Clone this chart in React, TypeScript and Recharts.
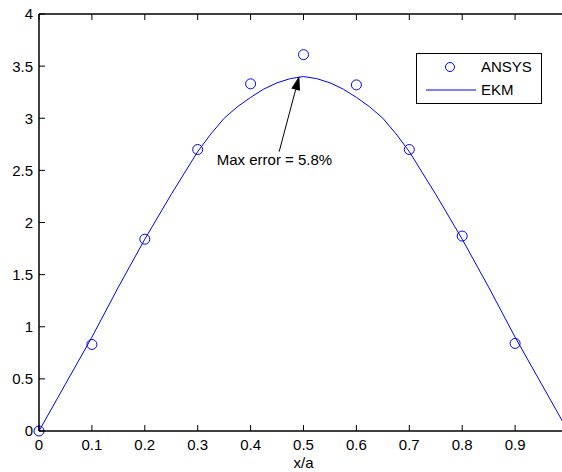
import React from 'react';
import {
  ComposedChart,
  Line,
  Scatter,
  XAxis,
  YAxis,
  ReferenceLine,
  ReferenceDot,
  Legend,
} from 'recharts';

const FONT = '"Liberation Sans", Arial, Helvetica, sans-serif';
const BLUE = '#0000ff';
const FS = 15;

// Tick values
const xTicks = [0, 0.1, 0.2, 0.3, 0.4, 0.5, 0.6, 0.7, 0.8, 0.9];
const yTicks = [0, 0.5, 1, 1.5, 2, 2.5, 3, 3.5, 4];

// ANSYS (circles)
const ansysX = [0, 0.1, 0.2, 0.3, 0.4, 0.5, 0.6, 0.7, 0.8, 0.9];
const ansysY = [0, 0.83, 1.84, 2.7, 3.33, 3.61, 3.32, 2.7, 1.87, 0.84];

// EKM (line)
const ekmX = [
  0, 0.05, 0.1, 0.15, 0.2, 0.25, 0.3, 0.325, 0.35, 0.375, 0.4, 0.425, 0.45, 0.475, 0.5,
  0.525, 0.55, 0.575, 0.6, 0.625, 0.65, 0.675, 0.7, 0.75, 0.8, 0.85, 0.9, 0.95, 1,
];
const ekmY = [
  0, 0.45, 0.9, 1.38, 1.84, 2.27, 2.68, 2.85, 3.0, 3.11, 3.2, 3.28, 3.34, 3.38, 3.4,
  3.38, 3.34, 3.28, 3.2, 3.11, 3.0, 2.85, 2.68, 2.27, 1.84, 1.38, 0.9, 0.45, 0,
];

const seriesNames = ['ANSYS', 'EKM'];
const xLabel = 'x/a';
const annotationText = 'Max error = 5.8%';
const arrowTail = { x: 0.454, y: 2.68 };
const arrowTip = { x: 0.492, y: 3.405 };
const annotationAt = { x: 0.336, y: 2.55 };

const ekmData = ekmX.map((x, i) => ({ x, ekm: ekmY[i] }));
const ansysData = ansysX.map((x, i) => ({ x, ansys: ansysY[i] }));

const TICK_LEN = 6;

const BottomTick = (p: any) => {
  const { x, y, payload } = p;
  return (
    <g>
      <line x1={x} x2={x} y1={y} y2={y - TICK_LEN} stroke="#000" strokeWidth={1} />
      <text x={x} y={y + 19} textAnchor="middle" fontSize={FS} fontFamily={FONT} fill="#000">
        {String(payload.value)}
      </text>
    </g>
  );
};

const TopTick = (p: any) => {
  const { x, y } = p;
  return <line x1={x} x2={x} y1={y} y2={y + TICK_LEN} stroke="#000" strokeWidth={1} />;
};

const LeftTick = (p: any) => {
  const { x, y, payload } = p;
  return (
    <g>
      <line x1={x} x2={x + TICK_LEN} y1={y} y2={y} stroke="#000" strokeWidth={1} />
      <text x={x - 6} y={y} dy="0.36em" textAnchor="end" fontSize={FS} fontFamily={FONT} fill="#000">
        {String(payload.value)}
      </text>
    </g>
  );
};

const RightTick = (p: any) => {
  const { x, y } = p;
  return <line x1={x} x2={x - TICK_LEN} y1={y} y2={y} stroke="#000" strokeWidth={1} />;
};

const CircleShape = (p: any) => (
  <circle cx={p.cx} cy={p.cy} r={5} fill="none" stroke={BLUE} strokeWidth={1} />
);

const ArrowShape = (p: any) => {
  const { x1, y1, x2, y2 } = p;
  const ang = Math.atan2(y2 - y1, x2 - x1);
  const L = 14;
  const W = 4.5;
  const bx = x2 - L * Math.cos(ang);
  const by = y2 - L * Math.sin(ang);
  const px = -Math.sin(ang) * W;
  const py = Math.cos(ang) * W;
  return (
    <g>
      <line x1={x1} y1={y1} x2={bx} y2={by} stroke="#000" strokeWidth={1} />
      <polygon points={`${x2},${y2} ${bx + px},${by + py} ${bx - px},${by - py}`} fill="#000" />
    </g>
  );
};

const AnnotationText = (p: any) => (
  <text x={p.cx} y={p.cy} fontSize={FS} fontFamily={FONT} fill="#000" textAnchor="start">
    {annotationText}
  </text>
);

const LegendBox = () => (
  <div
    style={{
      width: 126,
      height: 51,
      border: '1px solid #000',
      background: '#fff',
      boxSizing: 'border-box',
      position: 'relative',
    }}
  >
    <svg width={124} height={49} style={{ position: 'absolute', left: 0, top: 0 }}>
      <circle cx={33} cy={13} r={4.5} fill="none" stroke={BLUE} strokeWidth={1} />
      <line x1={9} x2={59} y1={36} y2={36} stroke={BLUE} strokeWidth={1} />
      <text x={64} y={13} dy="0.36em" fontSize={FS} fontFamily={FONT} fill="#000">
        {seriesNames[0]}
      </text>
      <text x={64} y={36} dy="0.36em" fontSize={FS} fontFamily={FONT} fill="#000">
        {seriesNames[1]}
      </text>
    </svg>
  </div>
);

export default function App() {
  return (
    <div
      style={{
        position: 'absolute',
        left: 0,
        top: 0,
        width: 562,
        height: 472,
        overflow: 'hidden',
        background: '#fff',
        fontFamily: FONT,
      }}
    >
      <ComposedChart
        width={600}
        height={472}
        data={ekmData}
        margin={{ top: 0, right: 0, bottom: 0, left: 0 }}
      >
        <XAxis
          dataKey="x"
          type="number"
          domain={[0, 1]}
          ticks={xTicks}
          interval={0}
          height={41}
          tickSize={0}
          tickMargin={0}
          tickLine={false}
          tick={<BottomTick />}
          axisLine={{ stroke: '#000', strokeWidth: 1.5 }}
          label={{ value: xLabel, position: 'insideBottom', offset: 4, fill: '#000', fontSize: FS, fontFamily: FONT }}
        />
        <XAxis
          xAxisId="top"
          orientation="top"
          dataKey="x"
          type="number"
          domain={[0, 1]}
          ticks={xTicks}
          interval={0}
          height={14}
          tickSize={0}
          tickMargin={0}
          tickLine={false}
          tick={<TopTick />}
          axisLine={{ stroke: '#000', strokeWidth: 1.5 }}
        />
        <YAxis
          type="number"
          domain={[0, 4]}
          ticks={yTicks}
          interval={0}
          width={39}
          tickSize={0}
          tickMargin={0}
          tickLine={false}
          tick={<LeftTick />}
          axisLine={{ stroke: '#000', strokeWidth: 1.5 }}
        />
        <YAxis
          yAxisId="right"
          orientation="right"
          type="number"
          domain={[0, 4]}
          ticks={yTicks}
          interval={0}
          width={32}
          tickSize={0}
          tickMargin={0}
          tickLine={false}
          tick={<RightTick />}
          axisLine={{ stroke: '#000', strokeWidth: 1.5 }}
        />
        <Line
          dataKey="ekm"
          name={seriesNames[1]}
          type="linear"
          stroke={BLUE}
          strokeWidth={1}
          dot={false}
          activeDot={false}
          isAnimationActive={false}
        />
        <Scatter
          data={ansysData}
          dataKey="ansys"
          name={seriesNames[0]}
          shape={CircleShape}
          isAnimationActive={false}
        />
        <ReferenceLine segment={[arrowTail, arrowTip]} ifOverflow="visible" shape={ArrowShape} />
        <ReferenceDot
          x={annotationAt.x}
          y={annotationAt.y}
          r={1}
          ifOverflow="visible"
          shape={AnnotationText}
        />
        <Legend
          layout="horizontal"
          verticalAlign="middle"
          align="center"
          wrapperStyle={{ position: 'absolute', left: 416, top: 53, width: 126, height: 51 }}
          content={() => <LegendBox />}
        />
      </ComposedChart>
    </div>
  );
}
